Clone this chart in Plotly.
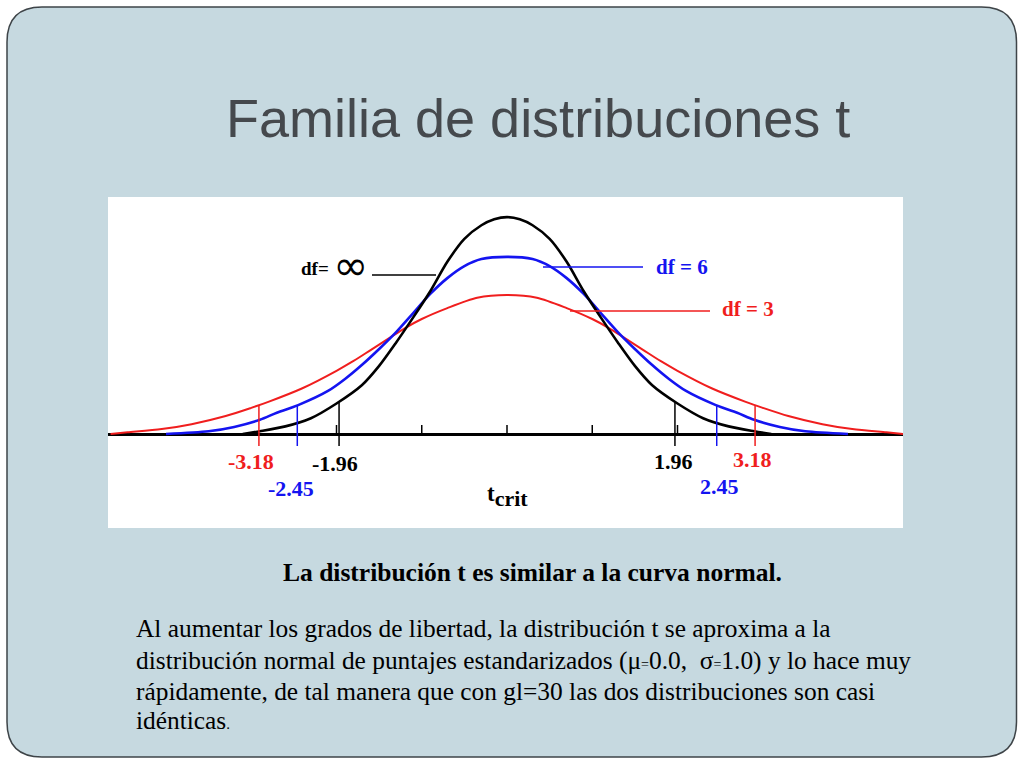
import plotly.graph_objects as go

# ---------------- data ----------------
# normal curve (df = infinity)
x_inf = [-3.10, -2.90, -2.60, -2.30, -2.00, -1.70, -1.50, -1.30, -1.10, -0.90, -0.70, -0.50, -0.30, -0.15,
         0.00, 0.15, 0.30, 0.50, 0.70, 0.90, 1.10, 1.30, 1.50, 1.70, 2.00, 2.30, 2.60, 2.90, 3.10]
y_inf = [0.000, 0.005, 0.014, 0.029, 0.056, 0.090, 0.125, 0.168, 0.214, 0.262, 0.316, 0.358, 0.383, 0.394,
         0.398, 0.394, 0.383, 0.358, 0.316, 0.262, 0.214, 0.168, 0.125, 0.090, 0.056, 0.029, 0.014, 0.005, 0.000]

# t, df = 6
x_df6 = [-4.00, -3.50, -3.20, -2.90, -2.70, -2.45, -2.10, -1.90, -1.70, -1.50, -1.30, -1.10, -0.90, -0.70,
         -0.50, -0.30, 0.00, 0.30, 0.50, 0.70, 0.90, 1.10, 1.30, 1.50, 1.70, 1.90, 2.10, 2.45, 2.70, 2.90,
         3.20, 3.50, 4.00]
y_df6 = [0.000, 0.005, 0.013, 0.026, 0.039, 0.053, 0.079, 0.101, 0.127, 0.156, 0.187, 0.222, 0.257, 0.286,
         0.308, 0.321, 0.325, 0.321, 0.308, 0.286, 0.257, 0.222, 0.187, 0.156, 0.127, 0.101, 0.079, 0.053,
         0.039, 0.026, 0.013, 0.005, 0.000]

# t, df = 3
x_df3 = [-4.65, -4.45, -4.05, -3.70, -3.30, -3.00, -2.80, -2.40, -2.00, -1.80, -1.60, -1.40, -1.20, -1.00,
         -0.70, -0.35, 0.00, 0.35, 0.70, 1.00, 1.20, 1.40, 1.60, 1.80, 2.00, 2.40, 2.80, 3.00, 3.30, 3.70,
         4.05, 4.45, 4.65]
y_df3 = [0.000, 0.003, 0.009, 0.018, 0.033, 0.048, 0.059, 0.084, 0.116, 0.134, 0.154, 0.174, 0.194, 0.211,
         0.231, 0.250, 0.255, 0.250, 0.231, 0.211, 0.194, 0.174, 0.154, 0.134, 0.116, 0.084, 0.059, 0.048,
         0.033, 0.018, 0.009, 0.003, 0.000]

# critical-value markers (drawn positions) and their labels
crit_x = [-2.91, -2.46, -1.97, 1.97, 2.46, 2.91]
crit_top = [0.053, 0.053, 0.058, 0.058, 0.053, 0.053]
crit_labels = ["-3.18", "-2.45", "-1.96", "1.96", "2.45", "3.18"]
crit_bottom = -0.022

tick_vals = [-2, -1, 0, 1, 2]
tick_len = 0.0165

# ---------------- geometry helpers (pixels -> coordinates) ----------------
PL, PR, PT, PB = 108, 903, 197, 528        # white chart box
X0_PX, PX_PER_UNIT = 507, 85.25
Y0_PX, PX_PER_DENS = 434, 545.0


def dx(px):
    return (px - X0_PX) / PX_PER_UNIT


def dy(py):
    return (Y0_PX - py) / PX_PER_DENS


def ppx(px):
    return (px - PL) / (PR - PL)


def ppy(py):
    return (PB - py) / (PB - PT)


BLACK = "#000000"
BLUE = "#1414F0"
RED = "#F01E1E"
SERIF = "Liberation Serif, Times New Roman, serif"

fig = go.Figure()

# curves
fig.add_trace(go.Scatter(x=x_df3, y=y_df3, mode="lines",
                         line=dict(color=RED, width=2.0, shape="spline", smoothing=0.8),
                         name="df = 3", hoverinfo="skip"))
fig.add_trace(go.Scatter(x=x_df6, y=y_df6, mode="lines",
                         line=dict(color=BLUE, width=2.6, shape="spline", smoothing=0.8),
                         name="df = 6", hoverinfo="skip"))
fig.add_trace(go.Scatter(x=x_inf, y=y_inf, mode="lines",
                         line=dict(color=BLACK, width=2.6, shape="spline", smoothing=0.8),
                         name="df = inf", hoverinfo="skip"))

# ticks on the axis
tx, ty = [], []
for v in tick_vals:
    tx += [v, v, None]
    ty += [0, tick_len, None]
fig.add_trace(go.Scatter(x=tx, y=ty, mode="lines", line=dict(color=BLACK, width=1.5), hoverinfo="skip"))

# critical lines
crit_colors = [RED, BLUE, BLACK, BLACK, BLUE, RED]
for cx, ct, cc in zip(crit_x, crit_top, crit_colors):
    fig.add_trace(go.Scatter(x=[cx, cx], y=[crit_bottom, ct], mode="lines",
                             line=dict(color=cc, width=1.5), hoverinfo="skip"))

shapes = []
# slide background (rounded rectangle)
L, R, T, B, RAD = 7, 1016.5, 7, 757, 35
rx = RAD / (PR - PL)
ry = RAD / (PB - PT)
x0, x1, y0, y1 = ppx(L), ppx(R), ppy(B), ppy(T)
path = (f"M {x0 + rx},{y1} L {x1 - rx},{y1} Q {x1},{y1} {x1},{y1 - ry} "
        f"L {x1},{y0 + ry} Q {x1},{y0} {x1 - rx},{y0} L {x0 + rx},{y0} Q {x0},{y0} {x0},{y0 + ry} "
        f"L {x0},{y1 - ry} Q {x0},{y1} {x0 + rx},{y1} Z")
shapes.append(dict(type="path", xref="paper", yref="paper", path=path, fillcolor="#C6D9E0",
                   line=dict(color="#3E4448", width=1.5), layer="below"))
# white chart box
shapes.append(dict(type="rect", xref="paper", yref="paper", x0=0, x1=1, y0=0, y1=1,
                   fillcolor="white", line=dict(width=0), layer="below"))
# leader lines
shapes.append(dict(type="line", xref="x", yref="y", x0=dx(372), x1=dx(436), y0=dy(275), y1=dy(275),
                   line=dict(color=BLACK, width=1.3)))
shapes.append(dict(type="line", xref="x", yref="y", x0=dx(543), x1=dx(643), y0=dy(267), y1=dy(267),
                   line=dict(color=BLUE, width=1.3)))
shapes.append(dict(type="line", xref="x", yref="y", x0=dx(570), x1=dx(710), y0=dy(311), y1=dy(311),
                   line=dict(color=RED, width=1.3)))

annotations = []
# curve labels
annotations.append(dict(x=dx(299), y=dy(268), xref="x", yref="y", xanchor="left", yanchor="middle",
                        text="<b>df=</b>", showarrow=False,
                        font=dict(family=SERIF, size=19, color=BLACK)))
annotations.append(dict(x=dx(331), y=dy(265), xref="x", yref="y", xanchor="left", yanchor="middle",
                        text="∞", showarrow=False,
                        font=dict(family="DejaVu Sans, sans-serif", size=42, color=BLACK)))
annotations.append(dict(x=dx(654), y=dy(267), xref="x", yref="y", xanchor="left", yanchor="middle",
                        text="<b>df = 6</b>", showarrow=False, font=dict(family=SERIF, size=21, color=BLUE)))
annotations.append(dict(x=dx(720), y=dy(309), xref="x", yref="y", xanchor="left", yanchor="middle",
                        text="<b>df = 3</b>", showarrow=False, font=dict(family=SERIF, size=21, color=RED)))

# critical value labels
lab_px = [251, 291, 335, 673, 719, 752]
lab_py = [461, 488, 463, 461, 486, 459]
for lab, lx, ly, cc in zip(crit_labels, lab_px, lab_py, crit_colors):
    annotations.append(dict(x=dx(lx), y=dy(ly), xref="x", yref="y", xanchor="center", yanchor="middle",
                            text=f"<b>{lab}</b>", showarrow=False,
                            font=dict(family=SERIF, size=22, color=cc)))

# t_crit
annotations.append(dict(x=dx(507), y=dy(496), xref="x", yref="y", xanchor="center", yanchor="middle",
                        text="<b>t<sub><span style='font-size:22px'>crit</span></sub></b>", showarrow=False,
                        font=dict(family=SERIF, size=23, color=BLACK)))

# title
annotations.append(dict(x=ppx(224), y=ppy(118), xref="paper", yref="paper", xanchor="left", yanchor="middle",
                        text="Familia de distribuciones t", showarrow=False,
                        font=dict(family="Liberation Sans Narrow, Arial Narrow, Liberation Sans, sans-serif",
                                  size=54, color="#45494D")))

# subtitle
annotations.append(dict(x=ppx(532), y=ppy(572), xref="paper", yref="paper", xanchor="center", yanchor="middle",
                        text="<b>La distribución t es similar a la curva normal.</b>", showarrow=False,
                        font=dict(family=SERIF, size=25.5, color=BLACK)))

# paragraph
small = "<span style='font-size:14px'>=</span>"
para_lines = [
    "Al aumentar los grados de libertad, la distribución t se aproxima a la",
    f"distribución normal de puntajes estandarizados (μ{small}0.0,  σ{small}1.0) y lo hace muy",
    "rápidamente, de tal manera que con gl=30 las dos distribuciones son casi",
    "idénticas<span style='font-size:15px'>.</span>",
]
para_py = [628, 660, 691, 720]
for line, ly in zip(para_lines, para_py):
    annotations.append(dict(x=ppx(134), y=ppy(ly), xref="paper", yref="paper", xanchor="left",
                            yanchor="middle", text=line, showarrow=False,
                            font=dict(family=SERIF, size=25.4, color=BLACK)))

fig.update_layout(
    width=1024, height=768, autosize=False,
    margin=dict(l=PL, r=1024 - PR, t=PT, b=768 - PB, pad=0),
    paper_bgcolor="white", plot_bgcolor="rgba(0,0,0,0)",
    showlegend=False,
    xaxis=dict(range=[dx(PL), dx(PR)], visible=False, fixedrange=True),
    yaxis=dict(range=[dy(PB), dy(PT)], showgrid=False, showticklabels=False, ticks="",
               showline=False, zeroline=True, zerolinecolor=BLACK, zerolinewidth=2.5, fixedrange=True),
    shapes=shapes,
    annotations=annotations,
)

fig.write_html("out.html", config={"displayModeBar": False},
               post_script="document.body.style.margin='0';document.body.style.overflow='hidden';")
